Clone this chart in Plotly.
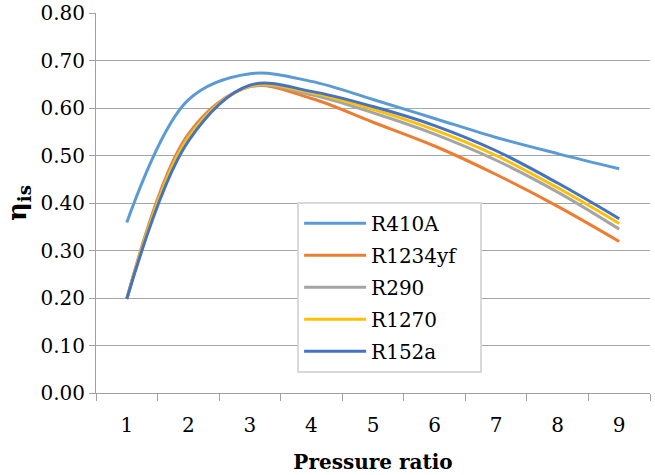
import plotly.graph_objects as go

pressure_ratio = ["1", "2", "3", "4", "5", "6", "7", "8", "9"]
r410a   = [0.359, 0.617, 0.672, 0.656, 0.618, 0.578, 0.538, 0.504, 0.472]
r1234yf = [0.198, 0.545, 0.645, 0.620, 0.570, 0.520, 0.460, 0.393, 0.319]
r290    = [0.198, 0.540, 0.645, 0.628, 0.590, 0.545, 0.490, 0.423, 0.345]
r1270   = [0.198, 0.537, 0.646, 0.632, 0.597, 0.554, 0.500, 0.432, 0.357]
r152a   = [0.198, 0.530, 0.648, 0.635, 0.603, 0.563, 0.510, 0.442, 0.367]
y_ticks = [0.0, 0.1, 0.2, 0.3, 0.4, 0.5, 0.6, 0.7, 0.8]

series = [
    ("R410A", r410a, "#5B9BD5"),
    ("R1234yf", r1234yf, "#ED7D31"),
    ("R290", r290, "#A5A5A5"),
    ("R1270", r1270, "#FFC000"),
    ("R152a", r152a, "#4472C4"),
]

FONT = "DejaVu Serif"
PAD = "\u00a0\u00a0\u00a0"

fig = go.Figure()
for name, vals, color in series:
    fig.add_trace(go.Scatter(
        x=pressure_ratio, y=vals, name=name + PAD, mode="lines",
        line=dict(color=color, width=3, shape="spline", smoothing=1),
        legendgroup=name,
    ))

fig.update_layout(
    width=655, height=475,
    margin=dict(l=96, r=5, t=13, b=82),
    paper_bgcolor="white", plot_bgcolor="white",
    font=dict(family=FONT, size=20, color="black"),
    legend=dict(
        x=0.363, y=0.503, xanchor="left", yanchor="top",
        bgcolor="white", bordercolor="#d9d9d9", borderwidth=2,
        font=dict(family=FONT, size=20, color="black"),
        tracegroupgap=3, itemwidth=62,
    ),
    xaxis=dict(
        type="category", range=[-0.5, 8.5], automargin=False,
        tickson="boundaries", ticks="outside", ticklen=7,
        tickcolor="#a0a0a0", showline=True, linecolor="#a0a0a0", linewidth=1,
        showgrid=False, tickfont=dict(family=FONT, size=20),
        ticklabelstandoff=14,
        title=dict(text="<b>Pressure ratio</b>", font=dict(family=FONT, size=20), standoff=18),
    ),
    yaxis=dict(
        range=[0, 0.8], tickmode="array", tickvals=y_ticks, tickformat=".2f",
        automargin=False,
        ticks="outside", ticklen=6, tickcolor="#a0a0a0",
        showline=True, linecolor="#a0a0a0", linewidth=1,
        showgrid=True, gridcolor="#a6a6a6", gridwidth=1,
        zeroline=False, tickfont=dict(family=FONT, size=20),
        title=dict(text="<b>η<sub>is</sub></b>", font=dict(family=FONT, size=26), standoff=6),
    ),
)

fig.write_html("out.html", config={"displayModeBar": False},
               post_script="document.body.style.margin='0';")
